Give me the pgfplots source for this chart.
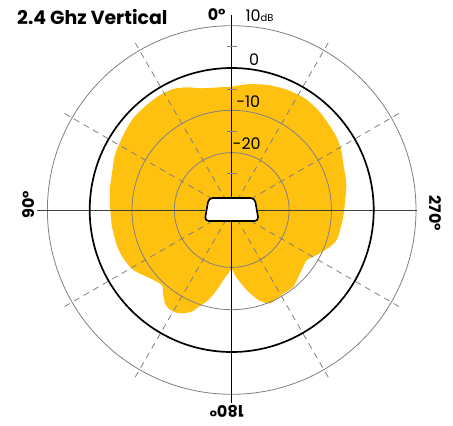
\documentclass[border=0pt]{standalone}
\usepackage{fontspec}
\setmainfont{Poppins}
\usepackage{pgfplots}
\pgfplotsset{compat=1.18}
\usepackage{pgfplotstable}
\definecolor{pat}{RGB}{254,193,16}
\definecolor{gridgray}{RGB}{128,128,128}

% gain pattern: angle (deg, 0 = top, counter-clockwise), gain (dB)
\pgfplotstableread{
a db
0 -4.42
8.6 -4.33
14.6 -3.83
20.1 -2.67
25.8 -1.80
32.0 -1.54
39.0 -1.63
46.9 -1.73
55.3 -2.41
64.8 -3.07
73.7 -4.02
79.8 -4.33
87.6 -4.78
97.1 -4.99
106.9 -5.15
114.0 -5.51
121.4 -6.34
129.9 -8.39
137.0 -9.31
141.2 -7.78
144.4 -6.45
147.2 -5.91
151.0 -5.91
154.9 -6.60
158.5 -7.73
160.4 -8.91
165.4 -11.58
169.4 -14.33
173.2 -16.90
176.1 -18.25
180.0 -19.55
182.7 -18.27
185.4 -16.95
190.6 -14.33
196.5 -11.39
202.3 -9.69
210.3 -10.31
218.8 -10.31
225.0 -11.28
231.6 -11.99
236.3 -12.27
240.2 -11.35
243.9 -10.33
249.5 -8.77
254.1 -7.75
259.5 -7.54
265.7 -7.19
272.5 -6.83
282.3 -5.84
288.7 -5.37
293.5 -4.89
298.7 -4.04
305.0 -3.38
312.0 -2.93
319.2 -2.34
326.8 -2.03
334.9 -2.25
343.8 -2.79
352.6 -3.59
360 -4.42
}\gaintab
\pgfplotstablecreatecol[expr={\thisrow{a}+90}]{ang}{\gaintab}
\pgfplotstablecreatecol[expr={4.23*(\thisrow{db}+33.57)}]{rad}{\gaintab}

\tikzset{spoke/.style={gridgray, line width=0.8bp, dash pattern=on 6bp off 5bp}}

\begin{document}
\begin{tikzpicture}
\begin{axis}[x=1bp, y=1bp, xmin=-231.7, xmax=221.3, ymin=-215, ymax=210,
  hide axis, clip=false]
\path (axis cs:-231.7,-215) rectangle (axis cs:221.3,210);
\addplot[fill=pat, draw=none, smooth, tension=0.45, data cs=polar]
  table[x=ang, y=rad] {\gaintab};
% grid circles
\draw[gridgray, line width=0.8bp] (axis cs:0,0) circle[radius=184.3];
\draw[gridgray, line width=0.8bp] (axis cs:0,0) circle[radius=99.7];
\draw[gridgray, line width=0.8bp] (axis cs:0,0) circle[radius=57.4];
% spokes
\draw[spoke] (axis cs:0,0) -- (axis cs:-97,168);
\draw[spoke] (axis cs:0,0) -- (axis cs:-168,97);
\draw[spoke] (axis cs:0,0) -- (axis cs:-168,-97);
\draw[spoke] (axis cs:0,0) -- (axis cs:-97,-168);
\draw[spoke] (axis cs:0,0) -- (axis cs:97,-168);
\draw[spoke] (axis cs:0,0) -- (axis cs:168,-97);
\draw[spoke] (axis cs:0,0) -- (axis cs:168,97);
\draw[spoke] (axis cs:0,0) -- (axis cs:97,168);
% axis lines
\draw[black, line width=0.9bp] (axis cs:0,195) -- (axis cs:0,-193);
\draw[black!75, line width=0.9bp] (axis cs:-195,0) -- (axis cs:185,0);
% 0 dB circle
\draw[black, line width=1.7bp] (axis cs:0,0) circle[radius=142];
% ticks on the radial axis
\draw[gridgray, line width=1bp] (axis cs:-5,163.2) -- (axis cs:5,163.2);
\draw[gridgray, line width=1bp] (axis cs:-5,120.9) -- (axis cs:5,120.9);
\draw[gridgray, line width=1bp] (axis cs:-5,78.6) -- (axis cs:5,78.6);
\draw[gridgray, line width=1bp] (axis cs:-5,36.3) -- (axis cs:5,36.3);
% device
\draw[black, line width=1.6bp, fill=white, rounded corners=4bp]
  (axis cs:-23,12) -- (axis cs:23,12) -- (axis cs:27,-11) -- (axis cs:-27,-11) -- cycle;
% labels
\node[inner sep=0, anchor=west, font=\fontsize{19}{21}\selectfont\bfseries] at (axis cs:-214.7,193) {2.4 Ghz Vertical};
\node[inner sep=0, font=\fontsize{16}{18}\selectfont\bfseries] at (axis cs:-15,195) {0°};
\node[inner sep=0, font=\fontsize{16}{18}\selectfont] at (axis cs:27.8,194) {10{\fontsize{10}{10}\selectfont dB}};
\node[inner sep=0, font=\fontsize{16}{18}\selectfont] at (axis cs:22.3,150.7) {0};
\node[inner sep=0, font=\fontsize{16}{18}\selectfont] at (axis cs:16.6,108.3) {-10};
\node[inner sep=0, font=\fontsize{16}{18}\selectfont] at (axis cs:15,66) {-20};
\node[inner sep=0, rotate=90, font=\fontsize{16}{18}\selectfont\bfseries] at (axis cs:-203.4,5) {90°};
\node[inner sep=0, rotate=-90, font=\fontsize{16}{18}\selectfont\bfseries] at (axis cs:203.3,-3.3) {270°};
\node[inner sep=0, rotate=180, font=\fontsize{16}{18}\selectfont\bfseries] at (axis cs:-5,-201.7) {180°};
\end{axis}
\end{tikzpicture}
\end{document}
